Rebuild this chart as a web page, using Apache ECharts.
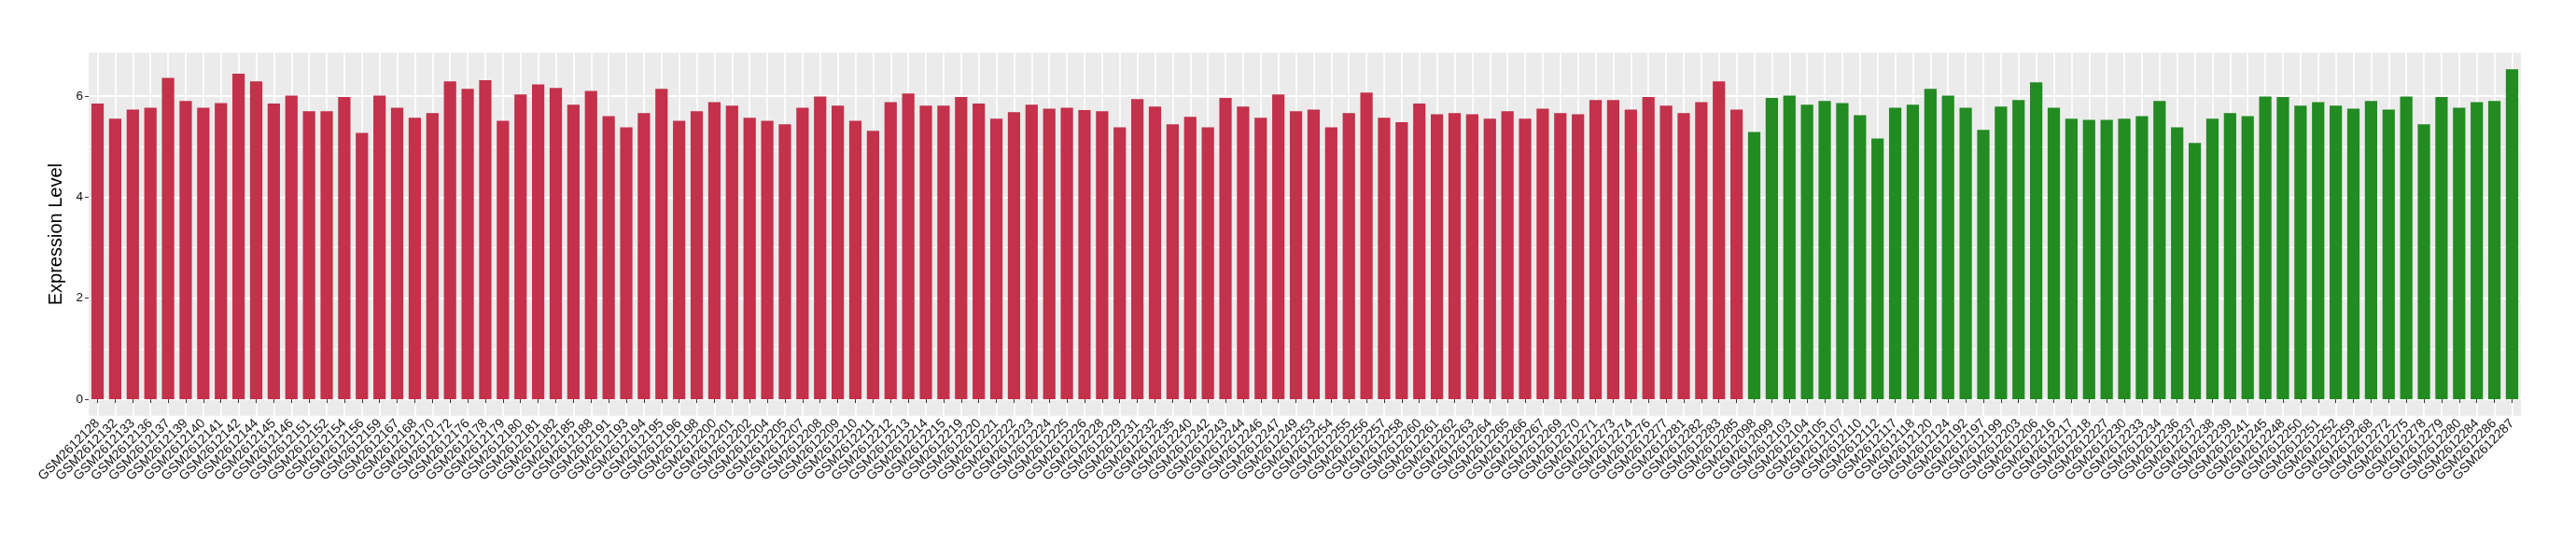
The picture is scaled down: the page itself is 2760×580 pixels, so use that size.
<!DOCTYPE html>
<html>
<head>
<meta charset="utf-8">
<script src="https://cdn.jsdelivr.net/npm/echarts@6/dist/echarts.min.js"></script>
<style>
  html, body { margin: 0; padding: 0; background: #ffffff; }
  #chart { width: 2760px; height: 580px; }
</style>
</head>
<body>
<div id="chart"></div>
<script>
// ---- data ----
const redSamples = [
  'GSM2612128','GSM2612132','GSM2612133','GSM2612136','GSM2612137','GSM2612139','GSM2612140','GSM2612141',
  'GSM2612142','GSM2612144','GSM2612145','GSM2612146','GSM2612151','GSM2612152','GSM2612154','GSM2612156',
  'GSM2612159','GSM2612167','GSM2612168','GSM2612170','GSM2612172','GSM2612176','GSM2612178','GSM2612179',
  'GSM2612180','GSM2612181','GSM2612182','GSM2612185','GSM2612188','GSM2612191','GSM2612193','GSM2612194',
  'GSM2612195','GSM2612196','GSM2612198','GSM2612200','GSM2612201','GSM2612202','GSM2612204','GSM2612205',
  'GSM2612207','GSM2612208','GSM2612209','GSM2612210','GSM2612211','GSM2612212','GSM2612213','GSM2612214',
  'GSM2612215','GSM2612219','GSM2612220','GSM2612221','GSM2612222','GSM2612223','GSM2612224','GSM2612225',
  'GSM2612226','GSM2612228','GSM2612229','GSM2612231','GSM2612232','GSM2612235','GSM2612240','GSM2612242',
  'GSM2612243','GSM2612244','GSM2612246','GSM2612247','GSM2612249','GSM2612253','GSM2612254','GSM2612255',
  'GSM2612256','GSM2612257','GSM2612258','GSM2612260','GSM2612261','GSM2612262','GSM2612263','GSM2612264',
  'GSM2612265','GSM2612266','GSM2612267','GSM2612269','GSM2612270','GSM2612271','GSM2612273','GSM2612274',
  'GSM2612276','GSM2612277','GSM2612281','GSM2612282','GSM2612283','GSM2612285'
];
const redValues = [
  5.85,5.55,5.73,5.77,6.36,5.90,5.77,5.86,
  6.44,6.29,5.85,6.01,5.70,5.70,5.98,5.27,
  6.01,5.77,5.57,5.66,6.29,6.14,6.31,5.51,
  6.03,6.23,6.16,5.83,6.10,5.60,5.38,5.66,
  6.14,5.51,5.70,5.88,5.81,5.57,5.51,5.44,
  5.77,5.99,5.81,5.51,5.31,5.88,6.05,5.81,
  5.81,5.98,5.85,5.55,5.68,5.83,5.75,5.77,
  5.72,5.70,5.38,5.94,5.79,5.44,5.59,5.38,
  5.96,5.79,5.57,6.03,5.70,5.73,5.38,5.66,
  6.07,5.57,5.48,5.85,5.64,5.66,5.64,5.55,
  5.70,5.55,5.75,5.66,5.64,5.92,5.92,5.73,
  5.98,5.81,5.66,5.88,6.29,5.73
];
const greenSamples = [
  'GSM2612098','GSM2612099','GSM2612103','GSM2612104','GSM2612105','GSM2612107','GSM2612110','GSM2612112',
  'GSM2612117','GSM2612118','GSM2612120','GSM2612124','GSM2612192','GSM2612197','GSM2612199','GSM2612203',
  'GSM2612206','GSM2612216','GSM2612217','GSM2612218','GSM2612227','GSM2612230','GSM2612233','GSM2612234',
  'GSM2612236','GSM2612237','GSM2612238','GSM2612239','GSM2612241','GSM2612245','GSM2612248','GSM2612250',
  'GSM2612251','GSM2612252','GSM2612259','GSM2612268','GSM2612272','GSM2612275','GSM2612278','GSM2612279',
  'GSM2612280','GSM2612284','GSM2612286','GSM2612287'
];
const greenValues = [
  5.29,5.96,6.01,5.83,5.90,5.86,5.62,5.16,
  5.77,5.83,6.14,6.01,5.77,5.33,5.79,5.92,
  6.27,5.77,5.55,5.53,5.53,5.55,5.60,5.90,
  5.38,5.07,5.55,5.66,5.60,5.99,5.98,5.81,
  5.88,5.81,5.75,5.90,5.73,5.99,5.44,5.98,
  5.77,5.88,5.90,6.53
];
const yMajorTicks = [0, 2, 4, 6];
const yMinorTicks = [1, 3, 5];
const yTitle = 'Expression Level';

// ---- build ----
const categories = redSamples.concat(greenSamples);
const redSeries = redValues.concat(greenSamples.map(() => '-'));
const greenSeries = redSamples.map(() => '-').concat(greenValues);
const allVals = redValues.concat(greenValues);
const vMax = Math.max.apply(null, allVals);
const yMin = -0.05 * vMax;
const yMax = 1.05 * vMax;

const FONT = '"Liberation Sans", Arial, Helvetica, sans-serif';
const chart = echarts.init(document.getElementById('chart'), null, { renderer: 'canvas' });
chart.setOption({
  animation: false,
  backgroundColor: '#ffffff',
  textStyle: { fontFamily: FONT },
  grid: {
    left: 95.1, right: 59.1, top: 56.5, bottom: 134.2,
    show: true, backgroundColor: '#EBEBEB', borderWidth: 0,
    containLabel: false, outerBoundsMode: 'none'
  },
  xAxis: {
    type: 'category',
    data: categories,
    boundaryGap: true,
    axisLine: { show: false },
    axisTick: { show: true, alignWithLabel: true, interval: 0, length: 4, lineStyle: { color: '#333333', width: 1 } },
    axisLabel: { interval: 0, rotate: 45, fontSize: 14, color: '#111111', margin: 6, fontFamily: FONT },
    splitLine: { show: true, alignWithLabel: true, interval: 0, lineStyle: { color: '#ffffff', width: 1.7 } }
  },
  yAxis: [
    {
      type: 'value', min: yMin, max: yMax,
      name: yTitle, nameLocation: 'middle', nameRotate: 90, nameGap: 15,
      nameTextStyle: { fontSize: 20, color: '#000000', fontFamily: FONT },
      axisLine: { show: false },
      axisTick: { show: true, length: 4, customValues: yMajorTicks, lineStyle: { color: '#333333', width: 1 } },
      axisLabel: { show: true, customValues: yMajorTicks, fontSize: 13.5, color: '#111111', margin: 6, fontFamily: FONT },
      splitLine: { show: true, lineStyle: { color: '#ffffff', width: 1.8 } }
    },
    {
      type: 'value', min: yMin, max: yMax, position: 'left',
      axisLine: { show: false },
      axisTick: { show: false, customValues: yMinorTicks },
      axisLabel: { show: false, customValues: yMinorTicks },
      splitLine: { show: true, lineStyle: { color: '#ffffff', width: 0.9 } }
    }
  ],
  series: [
    { name: 'red', type: 'bar', data: redSeries, barWidth: '70%', barGap: '-100%',
      itemStyle: { color: '#C3314A' }, z: 3 },
    { name: 'green', type: 'bar', data: greenSeries, barWidth: '70%', barGap: '-100%',
      itemStyle: { color: '#228B22' }, z: 3 }
  ]
});
</script>
</body>
</html>
